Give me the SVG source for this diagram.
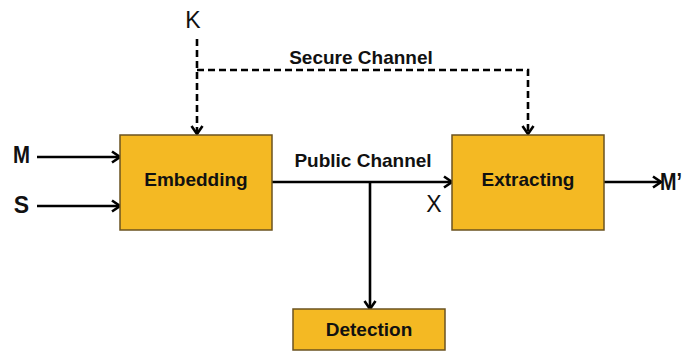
<svg xmlns="http://www.w3.org/2000/svg" width="699" height="352" viewBox="0 0 699 352">
<defs>
<marker id="arr" markerWidth="14" markerHeight="14" viewBox="0 0 14 14" refX="12" refY="7" orient="auto" markerUnits="userSpaceOnUse">
<path d="M4,1.5 L12,7 L4,12.5" fill="none" stroke="#000" stroke-width="2.6"/>
</marker>
</defs>
<style>
.box{fill:#F4B923;stroke:#6b5320;stroke-width:1.5}
.lbl{font-family:"Liberation Sans",Arial,sans-serif;font-weight:bold;font-size:19px;fill:#111;text-anchor:middle}
.sym{font-family:"Liberation Sans",Arial,sans-serif;font-size:23px;fill:#111}
.ln{fill:none;stroke:#000;stroke-width:2.6}
.dash{stroke-dasharray:7,4}
</style>
<rect width="699" height="352" fill="#fff"/>
<g id="connectors">
<line class="ln" x1="37" y1="157" x2="120" y2="157" marker-end="url(#arr)"/>
<line class="ln" x1="37" y1="206" x2="120" y2="206" marker-end="url(#arr)"/>
<line class="ln dash" x1="197" y1="39" x2="197" y2="134" marker-end="url(#arr)"/>
<polyline class="ln dash" points="197,70 528,70 528,134" marker-end="url(#arr)"/>
<line class="ln" x1="272" y1="182" x2="452" y2="182" marker-end="url(#arr)"/>
<line class="ln" x1="370" y1="182" x2="370" y2="309" marker-end="url(#arr)"/>
<line class="ln" x1="604" y1="182" x2="661" y2="182" marker-end="url(#arr)"/>
<text class="lbl" x="361" y="64">Secure Channel</text>
<text class="lbl" x="363" y="167">Public Channel</text>
</g>
<g id="K"><text class="sym" x="193" y="28" text-anchor="middle">K</text></g>
<g id="M"><text class="sym" x="21.5" y="163" text-anchor="middle" font-weight="bold" textLength="17" lengthAdjust="spacingAndGlyphs">M</text></g>
<g id="S"><text class="sym" x="21.5" y="213" text-anchor="middle" font-weight="bold">S</text></g>
<g id="X"><text class="sym" x="434" y="212" text-anchor="middle">X</text></g>
<g id="Mprime"><text class="sym" x="660" y="190" font-weight="bold" textLength="22" lengthAdjust="spacingAndGlyphs">M’</text></g>
<g id="embedding">
<rect class="box" x="120" y="135" width="152" height="95"/>
<text class="lbl" x="196" y="186">Embedding</text>
</g>
<g id="extracting">
<rect class="box" x="452" y="135" width="152" height="95"/>
<text class="lbl" x="528" y="186">Extracting</text>
</g>
<g id="detection">
<rect class="box" x="293" y="309" width="152" height="41"/>
<text class="lbl" x="369" y="336">Detection</text>
</g>
</svg>
